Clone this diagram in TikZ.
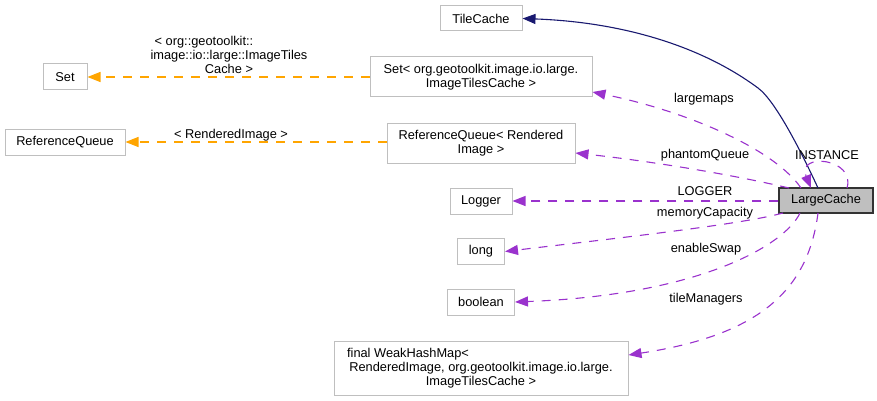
\documentclass[tikz,border=0pt]{standalone}
\usepackage{fontspec}
\setmainfont{Liberation Sans}
\usetikzlibrary{arrows.meta}
\definecolor{boxgray}{HTML}{BFBFBF}
\definecolor{mem}{HTML}{9A32CD}
\definecolor{tmpl}{HTML}{FFA500}
\definecolor{inh}{HTML}{191970}
\tikzset{
  cls/.style={draw=boxgray, fill=white, line width=1pt, inner sep=0pt, align=center, font=\fontsize{12.8}{14}\selectfont},
  main/.style={cls, draw=black!80, fill=boxgray, line width=1.4pt},
  lbl/.style={inner sep=0pt, align=center, font=\fontsize{12.8}{14}\selectfont},
  tip/.style={-{Triangle[length=13pt,width=10pt]}},
  memedge/.style={tip, draw=mem, line width=1.1pt, dash pattern=on 9pt off 8pt},
  tmpledge/.style={tip, draw=tmpl, line width=1.1pt, dash pattern=on 9pt off 8pt},
  inhedge/.style={tip, draw=inh, line width=1.1pt},
}
\begin{document}
\begin{tikzpicture}[x=1pt,y=-1pt]
\useasboundingbox (0,0) rectangle (877,401);
% nodes
\node[cls, minimum width=82pt, minimum height=25pt] (tile) at (481,18.5) {TileCache};
\node[cls, minimum width=222pt, minimum height=40pt] (setorg) at (481,77) {Set< org.geotoolkit.image.io.large.\\ImageTilesCache >};
\node[cls, minimum width=44pt, minimum height=26pt] (set) at (65,77) {Set};
\node[cls, minimum width=120pt, minimum height=26pt] (refq) at (65,142) {ReferenceQueue};
\node[cls, minimum width=188pt, minimum height=40pt] (refqr) at (481,143) {ReferenceQueue< Rendered\\Image >};
\node[main, minimum width=94pt, minimum height=25pt] (lc) at (826,200.5) {LargeCache};
\node[cls, minimum width=62pt, minimum height=26pt] (logger) at (481,201) {Logger};
\node[cls, minimum width=47pt, minimum height=26pt] (long) at (481,251.5) {long};
\node[cls, minimum width=67pt, minimum height=26pt] (bool) at (481,302) {boolean};
\node[cls, minimum width=294pt, minimum height=54pt] (whm) at (481,368) {final WeakHashMap<\hspace*{146pt}\\RenderedImage, org.geotoolkit.image.io.large.\\ImageTilesCache >};
% coordinates on LargeCache border
\coordinate (lcA) at (818,188);
\coordinate (lcB) at (801,188);
\coordinate (lcC) at (789,188);
\coordinate (lcD) at (783,213);
\coordinate (lcE) at (800,213);
\coordinate (lcF) at (818,213);
\coordinate (lcG) at (847,188);
\coordinate (lcH) at (811,188);
% inheritance
\draw[inhedge] (lcA) .. controls (805,160) and (777,102) .. (758,88) .. controls (700,45) and (620,22) .. (tile.east);
% member edges
\draw[memedge] (lcB) .. controls (775,150) and (690,112) .. (setorg.east |- 0,92);
\draw[memedge] (lcC) .. controls (720,172) and (640,160) .. (refqr.east |- 0,153);
\draw[memedge] (lc.west |- logger) -- (logger.east);
\draw[memedge] (lcD) .. controls (740,225) and (600,240) .. (long.east);
\draw[memedge] (lcE) .. controls (785,245) and (700,295) .. (bool.east);
\draw[memedge] (lcF) .. controls (808,290) and (760,335) .. (whm.east |- 0,355);
\draw[memedge] (lcG) .. controls (856,158) and (796,152) .. (lcH);
% template edges
\draw[tmpledge] (setorg.west) -- (set.east);
\draw[tmpledge] (refqr.west |- refq) -- (refq.east);
% labels
\node[lbl] (l1) at (704,99) {largemaps};
\node[lbl] (l2) at (705,155) {phantomQueue};
\node[lbl] (l3) at (827,155) {INSTANCE};
\node[lbl] (l4) at (705,191.5) {LOGGER};
\node[lbl] (l5) at (705,213) {memoryCapacity};
\node[lbl] (l6) at (706,249) {enableSwap};
\node[lbl] (l7) at (706,299) {tileManagers};
\node[lbl] (l8) at (229,54.5) {< org::geotoolkit::\hspace*{50pt}\\image::io::large::ImageTiles\\Cache >};
\node[lbl] (l9) at (231,135) {< RenderedImage >};
\end{tikzpicture}
\end{document}
